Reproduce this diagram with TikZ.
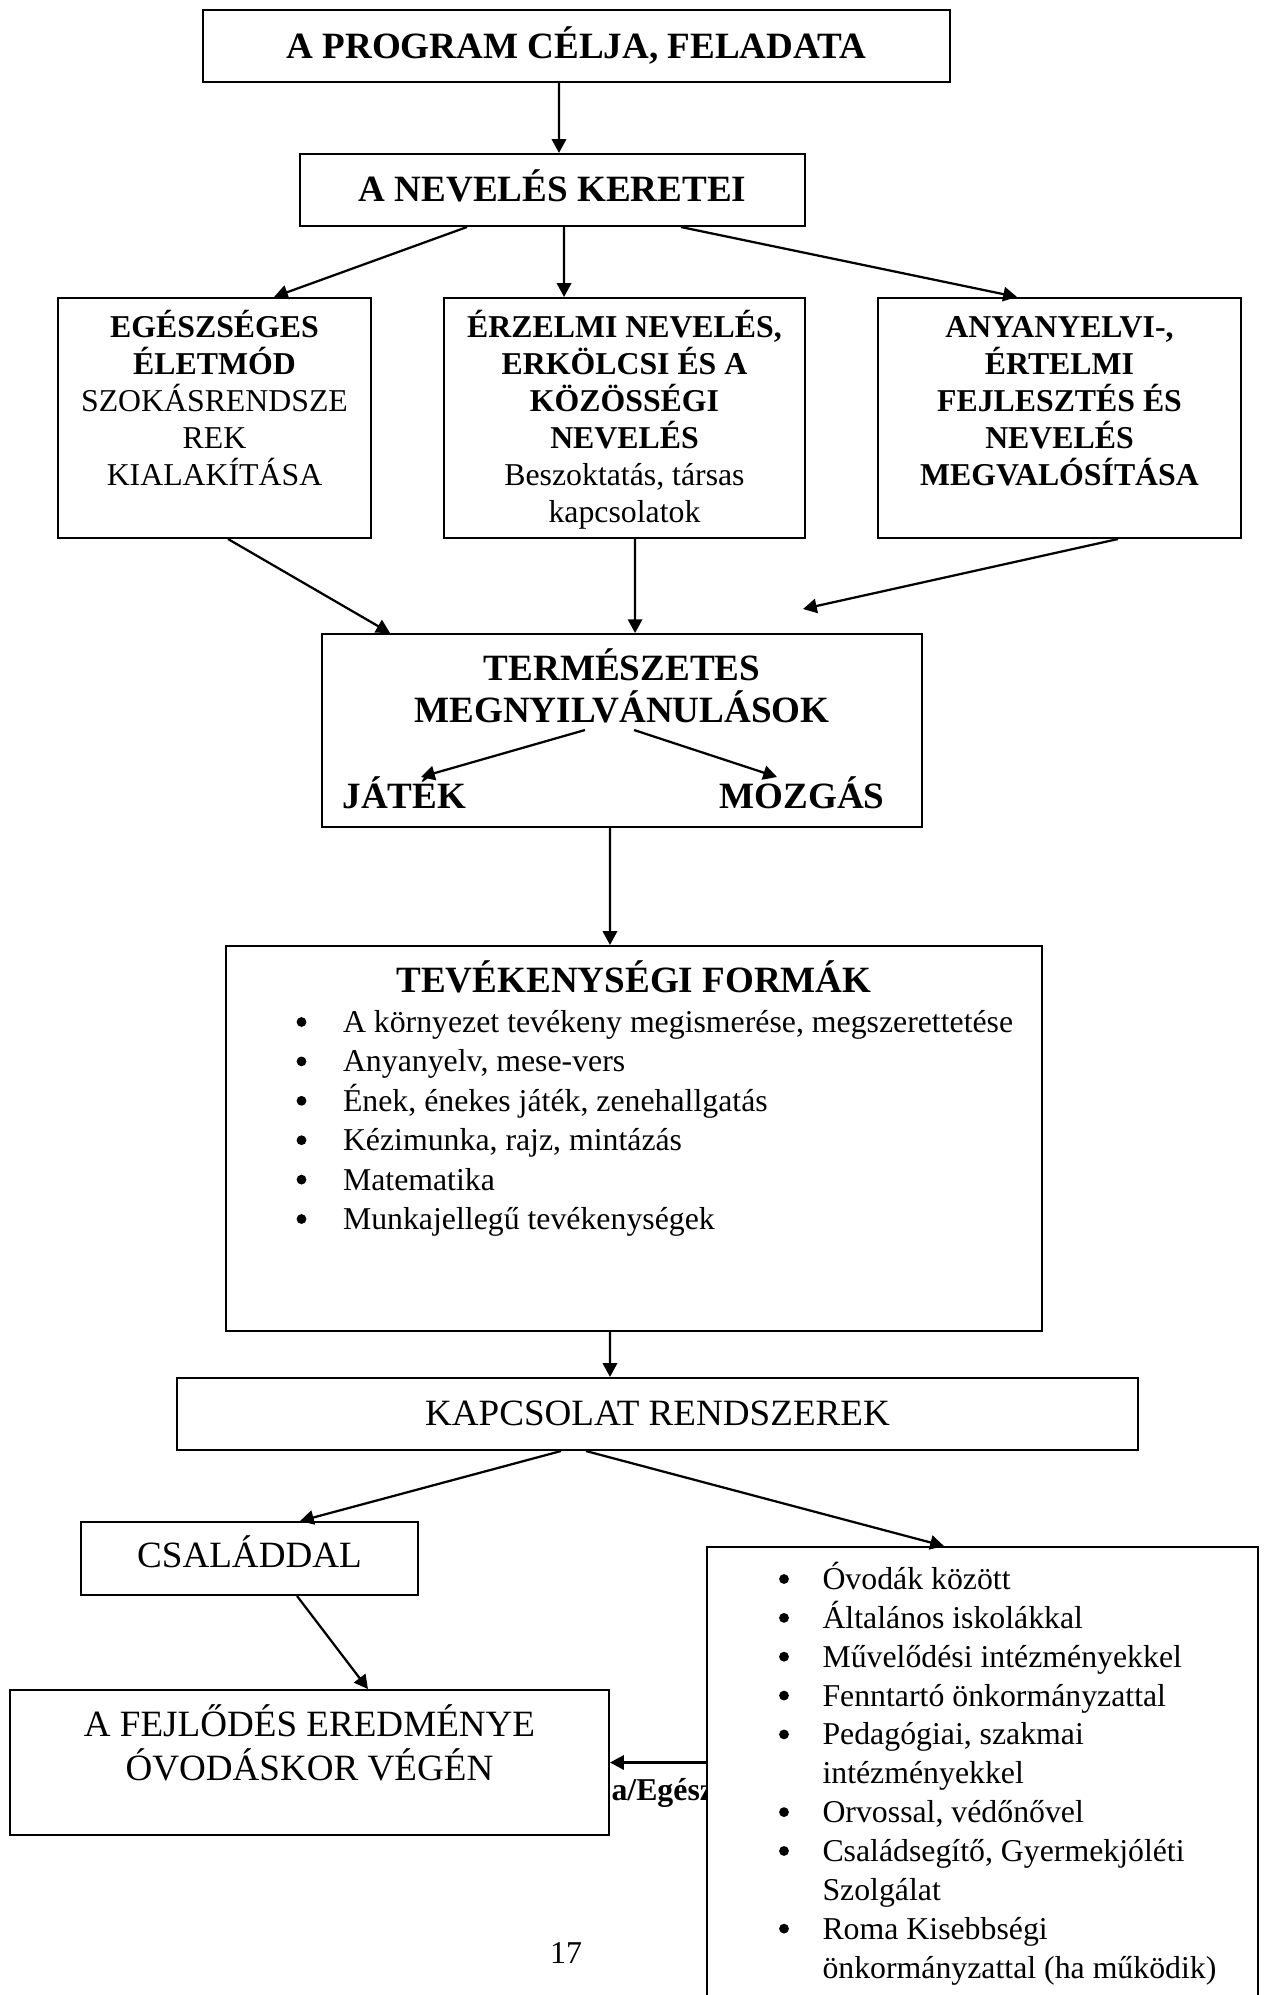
\documentclass[tikz,border=0pt]{standalone}
\usepackage{fontspec}
\setmainfont{Liberation Serif}
\usetikzlibrary{arrows.meta,calc}
\tikzset{
 box/.style={draw, line width=0.75pt, fill=white, inner sep=0pt, rectangle},
 arr/.style={line width=0.85pt, -{Triangle[length=5.2pt,width=5.4pt]}},
 tb/.style={font=\fontsize{14}{16.1}\selectfont\bfseries, inner sep=0pt, anchor=base},
 tr/.style={font=\fontsize{14}{16.1}\selectfont, inner sep=0pt, anchor=base},
 sb/.style={font=\fontsize{12}{13.8}\selectfont\bfseries, inner sep=0pt, anchor=base},
 sr/.style={font=\fontsize{12}{13.8}\selectfont, inner sep=0pt, anchor=base},
 bul/.style={circle, fill, inner sep=0pt, minimum size=3.7pt},
}
\begin{document}
\begin{tikzpicture}[x=0.3774pt,y=-0.3774pt]
\useasboundingbox (0,0) rectangle (1265,1995);

% partly hidden label behind the boxes
\node[sb, anchor=base west] (ae) at (611,1800) {a/Egész};

% boxes
\node[box, minimum width=281.9pt, minimum height=27.2pt] (top) at (576.5,46) {};
\node[box, minimum width=190.6pt, minimum height=27.2pt] (nev) at (552.5,190) {};
\node[box, minimum width=118.1pt, minimum height=90.6pt] (egesz) at (214.5,418) {};
\node[box, minimum width=136.2pt, minimum height=90.6pt] (erz) at (624.5,418) {};
\node[box, minimum width=137.0pt, minimum height=90.6pt] (any) at (1059.5,418) {};
\node[box, minimum width=226.4pt, minimum height=72.8pt] (term) at (622,730.5) {};
\node[box, minimum width=308.0pt, minimum height=145.3pt] (tev) at (634,1138.5) {};
\node[box, minimum width=362.7pt, minimum height=27.2pt] (kap) at (657.5,1414) {};
\node[box, minimum width=127.2pt, minimum height=27.5pt] (csal) at (249.5,1558.5) {};
\node[box, minimum width=226.1pt, minimum height=54.7pt] (fejl) at (309.5,1762.5) {};
\node[box, minimum width=208.0pt, minimum height=208.7pt] (lst) at (982.5,1823.5) {};

% texts
\node[tb] (topt) at (576.5,58.3) {A PROGRAM CÉLJA, FELADATA};
\node[tb] (nevt) at (552.5,201.8) {A NEVELÉS KERETEI};

\foreach \t [count=\i] in {{\bfseries EGÉSZSÉGES},{\bfseries ÉLETMÓD},SZOKÁSRENDSZE,REK,KIALAKÍTÁSA}
  \node[sr] (eg\i) at (214.5,{337.5+37*(\i-1)}) {\t};
\foreach \t [count=\i] in {{\bfseries ÉRZELMI NEVELÉS,},{\bfseries ERKÖLCSI ÉS A},{\bfseries KÖZÖSSÉGI},{\bfseries NEVELÉS},{Beszoktatás, társas},kapcsolatok}
  \node[sr] (er\i) at (624.5,{337.5+37*(\i-1)}) {\t};
\foreach \t [count=\i] in {{ANYANYELVI-,},ÉRTELMI,FEJLESZTÉS ÉS,NEVELÉS,MEGVALÓSÍTÁSA}
  \node[sb] (an\i) at (1059.5,{337.5+37*(\i-1)}) {\t};

\node[tb] (term1) at (622,680) {TERMÉSZETES};
\node[tb] (term2) at (622,722) {MEGNYILVÁNULÁSOK};
\node[tb, anchor=base west] (jatek) at (342,808) {JÁTÉK};
\node[tb, anchor=base west] (mozgas) at (719,808) {MOZGÁS};

\node[tb] (tevt) at (634,992) {TEVÉKENYSÉGI FORMÁK};
\foreach \t [count=\i] in {{A környezet tevékeny megismerése, megszerettetése},{Anyanyelv, mese-vers},{Ének, énekes játék, zenehallgatás},{Kézimunka, rajz, mintázás},Matematika,Munkajellegű tevékenységek}{
  \node[sr, anchor=base west] (tl\i) at (342.5,{1032.5+39.4*(\i-1)}) {\t};
  \node[bul] (tbul\i) at (301.5,{1022+39.4*(\i-1)}) {};
}

\node[tr] (kapt) at (657.5,1425) {KAPCSOLAT RENDSZEREK};
\node[tr] (csalt) at (249.5,1567) {CSALÁDDAL};
\node[tr] (fejl1) at (309.5,1736.5) {A FEJLŐDÉS EREDMÉNYE};
\node[tr] (fejl2) at (309.5,1780) {ÓVODÁSKOR VÉGÉN};

\foreach \k/\t in {0/Óvodák között,1/Általános iskolákkal,2/Művelődési intézményekkel,3/Fenntartó önkormányzattal,4/{Pedagógiai, szakmai},5/intézményekkel,6/{Orvossal, védőnővel},7/{Családsegítő, Gyermekjóléti},8/Szolgálat,9/Roma Kisebbségi,10/önkormányzattal (ha működik)}
  \node[sr, anchor=base west] (rl\k) at (822,{1589.5+38.85*\k}) {\t};
\foreach \k in {0,1,2,3,4,6,7,9}
  \node[bul] (rb\k) at (784,{1579+38.85*\k}) {};

\node[sr] (pg) at (566,1963) {17};

% free coordinates
\coordinate (t3) at (803,609);
\coordinate (j0) at (585,730);
\coordinate (j1) at (421,777);
\coordinate (m0) at (634,730);
\coordinate (m1) at (777,777);

% connectors
\draw[arr] ($(top.south west)+(357,0)$) -- ($(nev.north west)+(260,0)$);
\draw[arr] ($(nev.south west)+(168,0)$) -- ($(egesz.north west)+(217,0)$);
\draw[arr] ($(nev.south west)+(265,0)$) -- ($(erz.north west)+(121,0)$);
\draw[arr] ($(nev.south west)+(382,0)$) -- ($(any.north west)+(140,0)$);
\draw[arr] ($(egesz.south west)+(171,0)$) -- ($(term.north west)+(69,0)$);
\draw[arr] ($(erz.south west)+(192,0)$) -- ($(term.north west)+(314,0)$);
\draw[arr] ($(any.south west)+(241,0)$) -- (t3);
\draw[arr] (j0) -- (j1);
\draw[arr] (m0) -- (m1);
\draw[arr] ($(term.south west)+(289,0)$) -- ($(tev.north west)+(385,0)$);
\draw[arr] ($(tev.south west)+(385,0)$) -- ($(kap.north west)+(434,0)$);
\draw[arr] ($(kap.south west)+(385,0)$) -- ($(csal.north west)+(220,0)$);
\draw[arr] ($(kap.south west)+(410,0)$) -- ($(lst.north west)+(238,0)$);
\draw[arr] ($(csal.south west)+(217,0)$) -- ($(fejl.north west)+(359,0)$);
\draw[arr] (lst.west |- fejl.east) -- (fejl.east);
\end{tikzpicture}
\end{document}
